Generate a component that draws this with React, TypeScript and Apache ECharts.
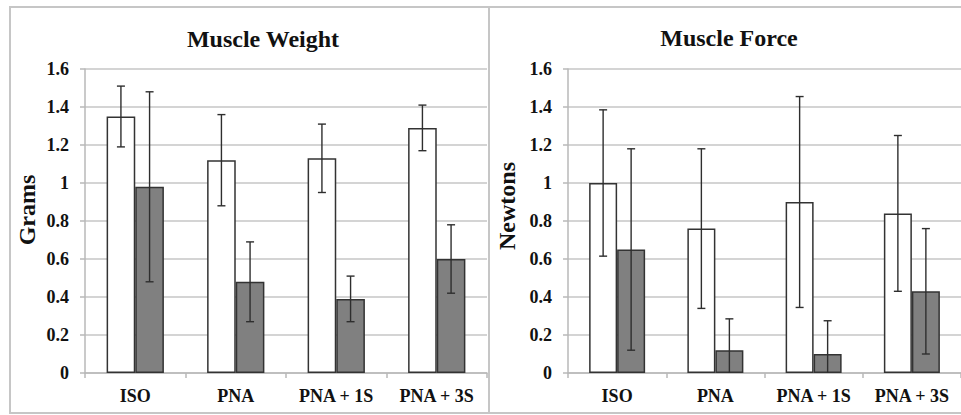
import React, { useEffect, useRef } from "react";
import * as echarts from "echarts";

const categories = ["ISO", "PNA", "PNA + 1S", "PNA + 3S"];
const yTicks = [0, 0.2, 0.4, 0.6, 0.8, 1, 1.2, 1.4, 1.6];

const weightWhite = [1.35, 1.12, 1.13, 1.29];
const weightWhiteErr = [0.16, 0.24, 0.18, 0.12];
const weightGray = [0.98, 0.48, 0.39, 0.6];
const weightGrayErr = [0.5, 0.21, 0.12, 0.18];

const forceWhite = [1.0, 0.76, 0.9, 0.84];
const forceWhiteErr = [0.385, 0.42, 0.555, 0.41];
const forceGray = [0.65, 0.12, 0.1, 0.43];
const forceGrayErr = [0.53, 0.165, 0.175, 0.33];

const titles = ["Muscle Weight", "Muscle Force"];
const yNames = ["Grams", "Newtons"];

const SERIF = "Liberation Serif";
const GRID_COLOR = "#c6c6c6";
const DARK = "#2e2e2e";
const GAP = 0.43;

function errSeries(values: number[], errs: number[], side: number, idx: number) {
  return {
    type: "custom",
    xAxisIndex: idx,
    yAxisIndex: idx,
    clip: true,
    z: 10,
    data: values.map((v, i) => [i, v, errs[i]]),
    renderItem: (params: any, api: any) => {
      const ci = api.value(0);
      const v = api.value(1);
      const e = api.value(2);
      const catW = api.size([1, 0])[0];
      const bw = (catW * (1 - GAP)) / 2;
      const off = (side * bw) / 2;
      const hi = v + e;
      const loRaw = v - e;
      const lo = Math.max(0, loRaw);
      const pTop = api.coord([ci, hi]);
      const pBot = api.coord([ci, lo]);
      const x = pTop[0] + off;
      const st = { stroke: DARK, lineWidth: 1.4 };
      const children: any[] = [
        { type: "line", shape: { x1: x, y1: pTop[1], x2: x, y2: pBot[1] }, style: st },
        { type: "line", shape: { x1: x - 4, y1: pTop[1], x2: x + 4, y2: pTop[1] }, style: st },
      ];
      if (loRaw >= 0) {
        children.push({ type: "line", shape: { x1: x - 4, y1: pBot[1], x2: x + 4, y2: pBot[1] }, style: st });
      }
      return { type: "group", children };
    },
  };
}

function barSeries(values: number[], color: string, idx: number) {
  return {
    type: "bar",
    xAxisIndex: idx,
    yAxisIndex: idx,
    data: values,
    barGap: "0%",
    barCategoryGap: GAP * 100 + "%",
    itemStyle: { color, borderColor: "#333333", borderWidth: 1.5 },
  };
}

const labelStyle = {
  fontFamily: SERIF,
  fontWeight: "bold" as const,
  color: "#111111",
};

function xAxis(idx: number) {
  return {
    type: "category",
    gridIndex: idx,
    data: categories,
    axisLine: { lineStyle: { color: "#b8b8b8", width: 1.5 } },
    axisTick: { show: true, length: 5, lineStyle: { color: "#b8b8b8", width: 1.5 } },
    axisLabel: { ...labelStyle, fontSize: 18, margin: 14 },
  };
}

function yAxis(idx: number) {
  return {
    type: "value",
    gridIndex: idx,
    min: 0,
    max: 1.6,
    interval: 0.2,
    axisLine: { show: true, lineStyle: { color: "#b8b8b8", width: 1.5 } },
    axisTick: { show: true, length: 5, lineStyle: { color: "#b8b8b8", width: 1.5 } },
    splitLine: { show: true, lineStyle: { color: GRID_COLOR, width: 1.5 } },
    axisLabel: {
      ...labelStyle,
      fontSize: 18,
      margin: 16,
      formatter: (v: number) => {
        const t = yTicks.find((k) => Math.abs(k - v) < 1e-6);
        return String(t !== undefined ? t : Math.round(v * 10) / 10);
      },
    },
  };
}

export default function App() {
  const ref = useRef<HTMLDivElement>(null);
  useEffect(() => {
    document.body.style.margin = "0";
    const chart = echarts.init(ref.current!, null, { renderer: "svg" });
    chart.setOption({
      animation: false,
      backgroundColor: "#ffffff",
      textStyle: { fontFamily: SERIF, fontWeight: "bold" },
      grid: [
        { left: 85, right: 474, top: 69, bottom: 42 },
        { left: 568, right: 0, top: 69, bottom: 42 },
      ],
      xAxis: [xAxis(0), xAxis(1)],
      yAxis: [yAxis(0), yAxis(1)],
      series: [
        barSeries(weightWhite, "#ffffff", 0),
        barSeries(weightGray, "#808080", 0),
        errSeries(weightWhite, weightWhiteErr, -1, 0),
        errSeries(weightGray, weightGrayErr, 1, 0),
        barSeries(forceWhite, "#ffffff", 1),
        barSeries(forceGray, "#808080", 1),
        errSeries(forceWhite, forceWhiteErr, -1, 1),
        errSeries(forceGray, forceGrayErr, 1, 1),
      ],
      graphic: [
        {
          type: "rect",
          silent: true,
          shape: { x: 10, y: 7, width: 479, height: 406 },
          style: { fill: "none", stroke: GRID_COLOR, lineWidth: 2 },
        },
        {
          type: "rect",
          silent: true,
          shape: { x: 489, y: 7, width: 480, height: 406 },
          style: { fill: "none", stroke: GRID_COLOR, lineWidth: 2 },
        },
        {
          type: "text",
          x: 263,
          y: 39,
          style: { text: titles[0], font: `bold 24px ${SERIF}`, fill: "#111", align: "center", verticalAlign: "middle" },
        },
        {
          type: "text",
          x: 729,
          y: 38,
          style: { text: titles[1], font: `bold 24px ${SERIF}`, fill: "#111", align: "center", verticalAlign: "middle" },
        },
        {
          type: "text",
          x: 27,
          y: 210,
          rotation: Math.PI / 2,
          style: { text: yNames[0], font: `bold 24px ${SERIF}`, fill: "#111", align: "center", verticalAlign: "middle" },
        },
        {
          type: "text",
          x: 507,
          y: 206,
          rotation: Math.PI / 2,
          style: { text: yNames[1], font: `bold 24px ${SERIF}`, fill: "#111", align: "center", verticalAlign: "middle" },
        },
      ],
    });
    return () => chart.dispose();
  }, []);
  return <div ref={ref} style={{ width: 961, height: 415 }} />;
}
